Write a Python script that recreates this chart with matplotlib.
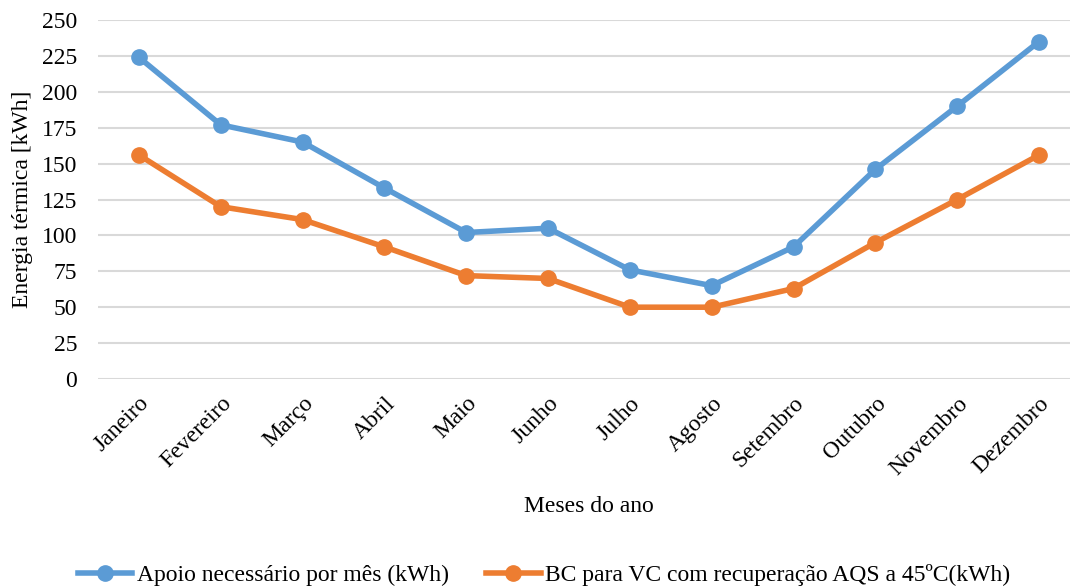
import matplotlib.pyplot as plt
from matplotlib.lines import Line2D

plt.rcParams['font.family'] = ['Liberation Serif', 'DejaVu Serif']

meses = ['Janeiro', 'Fevereiro', 'Março', 'Abril', 'Maio', 'Junho',
         'Julho', 'Agosto', 'Setembro', 'Outubro', 'Novembro', 'Dezembro']
apoio = [224, 177, 165, 133, 102, 105, 76, 65, 92, 146, 190, 235]
bc_vc = [156, 120, 111, 92, 72, 70, 50, 50, 63, 95, 125, 156]
yticks = [0, 25, 50, 75, 100, 125, 150, 175, 200, 225, 250]

azul = '#5B9BD5'
laranja = '#ED7D31'
fs = 17
lw = 4
ms = 11

fig = plt.figure(figsize=(10.70, 5.87), dpi=100)
ax = fig.add_axes([98/1070, 208/587, 982/1070, 359/587])

x = list(range(len(meses)))
ax.plot(x, apoio, color=azul, lw=lw, marker='o', ms=ms, zorder=3)
ax.plot(x, bc_vc, color=laranja, lw=lw, marker='o', ms=ms, zorder=3)

ax.set_xlim(-0.5, len(meses) - 0.5)
ax.set_ylim(0, 250)
ax.set_yticks(yticks)
ax.yaxis.grid(True, color='#D9D9D9', lw=1.5)
ax.set_axisbelow(True)
for s in ax.spines.values():
    s.set_visible(False)
ax.tick_params(axis='both', length=0, labelsize=fs)
ax.tick_params(axis='y', pad=15)
ax.tick_params(axis='x', pad=10)
ax.set_xticks(x)
ax.set_xticklabels(meses, rotation=45, ha='right', rotation_mode='anchor')

ax.set_ylabel('Energia térmica [kWh]', fontsize=fs, labelpad=6)
fig.text(589/1070, 1 - 507/587, 'Meses do ano', fontsize=fs, ha='center', va='center')

handles = [
    Line2D([], [], color=azul, lw=lw, marker='o', ms=ms),
    Line2D([], [], color=laranja, lw=lw, marker='o', ms=ms),
]
labels = ['Apoio necessário por mês (kWh)',
          'BC para VC com recuperação AQS a 45ºC(kWh)']
fig.legend(handles, labels, loc='center', bbox_to_anchor=(544/1070, 1 - 575/587),
           ncol=2, frameon=False, fontsize=fs, handlelength=2.3,
           handletextpad=0.2, columnspacing=1.6)

fig.savefig('out.png', dpi=100)
